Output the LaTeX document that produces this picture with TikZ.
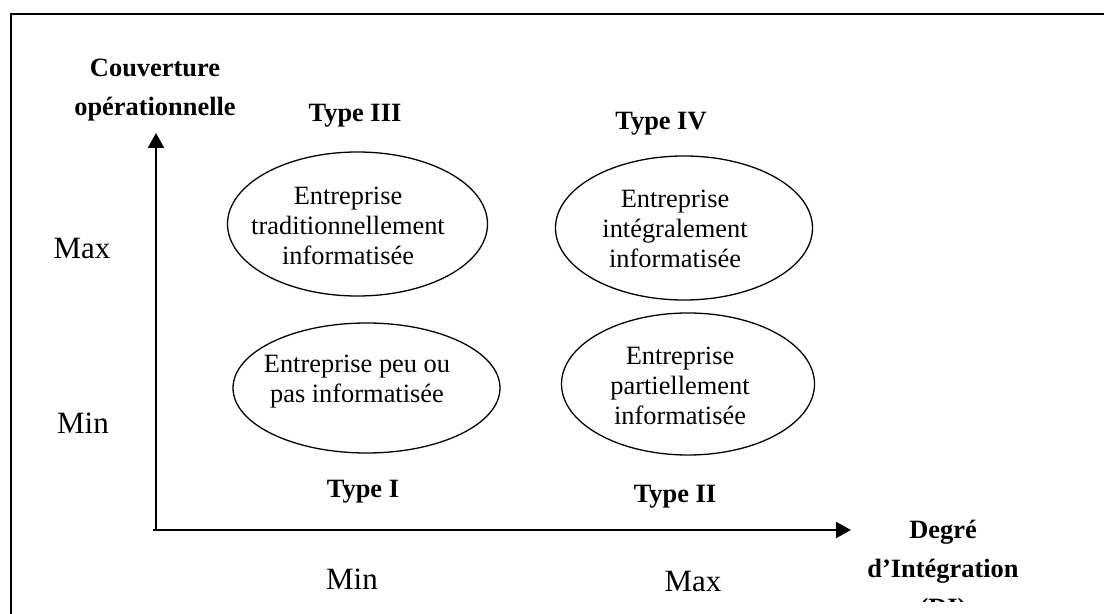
\documentclass[tikz,border=0pt]{standalone}
\usepackage{fontspec}
\setmainfont{Liberation Serif}
\usetikzlibrary{shapes.geometric,arrows.meta}
\tikzset{
  ell/.style={draw, ellipse, line width=0.65pt, inner sep=0pt},
  etxt/.style={align=center, inner sep=0pt, font=\fontsize{13.2pt}{15pt}\selectfont},
  blabel/.style={align=center, inner sep=0pt, font=\fontsize{13.2pt}{19.5pt}\selectfont\bfseries},
  mm/.style={inner sep=0pt, font=\fontsize{15.5pt}{18pt}\selectfont},
  axis/.style={line width=1pt, -{Triangle[length=7.5pt,width=8pt]}},
}
\begin{document}
\begin{tikzpicture}[x=0.5pt,y=-0.5pt]
\useasboundingbox (0,0) rectangle (1104,614);
\begin{scope}
\clip (0,0) rectangle (1104,614);
\draw[line width=0.9pt] (11,14) rectangle (1130,650);
\end{scope}

% axes
\coordinate (O) at (156,530);
\coordinate (xstart) at (153,530);
\coordinate (ytip) at (156,133);
\coordinate (xtip) at (851,530);
\draw[axis] (O) -- (ytip);
\draw[axis] (xstart) -- (xtip);

% axis titles
\node[blabel] (couv) at (155,90) {Couverture\\opérationnelle};
\begin{scope}
\clip (850,0) rectangle (1050,602);
\node[blabel] (degre) at (943,571) {Degré\\d’Intégration\\(DI)};
\end{scope}

% scale labels
\node[mm] (maxl) at (82,249) {Max};
\node[mm] (minl) at (83,423) {Min};
\node[mm] (minb) at (352,579) {Min};
\node[mm] (maxb) at (693,582) {Max};

% type labels
\node[blabel] (t3) at (355,116) {Type III};
\node[blabel] (t4) at (661,124) {Type IV};
\node[blabel] (t1) at (363,492) {Type I};
\node[blabel] (t2) at (675,497) {Type II};

% ellipses
\node[ell, minimum width=130pt, minimum height=72pt] (e3) at (357.5,224) {};
\node[ell, minimum width=133.5pt, minimum height=65pt] (e1) at (366.5,388) {};
\node[ell, minimum width=128.5pt, minimum height=72pt] (e4) at (684,228) {};
\node[ell, minimum width=126.5pt, minimum height=71pt] (e2) at (688,384) {};

\node[etxt] (x3) at (348,226) {Entreprise\\traditionnellement\\informatisée};
\node[etxt] (x1) at (357,382) {Entreprise peu ou\\pas informatisée};
\node[etxt] (x4) at (675,229) {Entreprise\\intégralement\\informatisée};
\node[etxt] (x2) at (680,386) {Entreprise\\partiellement\\informatisée};
\end{tikzpicture}
\end{document}
